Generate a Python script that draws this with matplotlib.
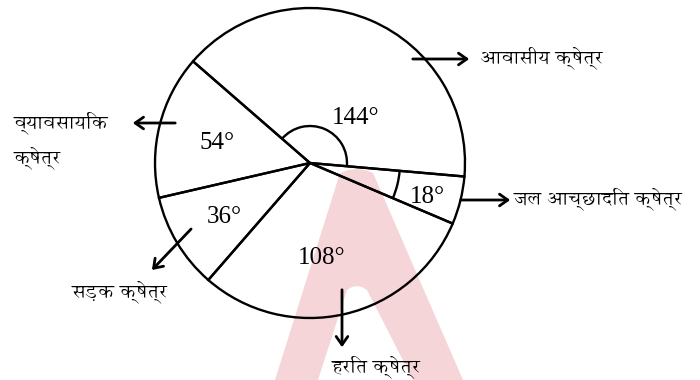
import numpy as np
import matplotlib
matplotlib.use('Agg')
from matplotlib import pyplot as plt
from matplotlib.patches import Arc, Polygon

# data: sector angles (degrees) and their names
sectors = ['आवासीय क्षेत्र', 'व्यावसायिक\nक्षेत्र', 'सड़क क्षेत्र', 'हरित क्षेत्र', 'जल आच्छादित क्षेत्र']
angles = [144, 54, 36, 108, 18]
angle_labels = ['144°', '54°', '36°', '108°', '18°']

hindi = ['Annapurna SIL', 'DejaVu Sans']

fig = plt.figure(figsize=(7, 3.8), dpi=100)
ax = fig.add_axes([0, 0, 1, 1])

cx, cy, r = 310, 217, 155

# watermark in the background
outer = [(275, 0), (340, 207), (348, 210), (356, 211), (365, 210), (373, 207), (463, 0)]
inner = [(318, 0), (347, 90), (352, 93), (357, 94), (362, 93), (367, 90), (413, 0)]
ax.add_patch(Polygon(outer, closed=True, color='#f6d5d8', lw=0, zorder=0))
ax.add_patch(Polygon(inner, closed=True, color='white', lw=0, zorder=0.5))

ax.pie(angles, startangle=-5, counterclock=True, center=(cx, cy), radius=r,
       wedgeprops=dict(facecolor='none', edgecolor='black', linewidth=1.7),
       frame=True)
ax.set_xlim(0, 700)
ax.set_ylim(0, 380)
ax.set_aspect('equal')
ax.axis('off')

# angle markers
start = -5
ax.add_patch(Arc((cx, cy), 74, 74, theta1=start, theta2=start + angles[0], color='black', lw=1.7))
ax.add_patch(Arc((cx, cy), 180, 180, theta1=start - angles[4], theta2=start, color='black', lw=1.7))

# angle labels (polar offsets from centre)
label_pos = [(45, 64), (168, 95), (212, 101), (277, 96), (-16, 122)]
for text, (a, d) in zip(angle_labels, label_pos):
    t = np.deg2rad(a)
    ax.text(cx + d * np.cos(t), cy + d * np.sin(t), text, family='Liberation Serif',
            fontsize=18, ha='center', va='center')

# names with arrows
arrows = [((410, 321), (472, 321)), ((178, 257), (130, 257)), ((193, 153), (150, 108)),
          ((342, 93), (342, 30)), ((458, 180), (513, 180))]
text_pos = [(480, 322), (14, 240), (72, 88), (332, 13), (514, 181)]
for name, (p0, p1), (tx, ty) in zip(sectors, arrows, text_pos):
    ax.annotate('', xy=p1, xytext=p0,
                arrowprops=dict(arrowstyle='->,head_length=0.6,head_width=0.42', lw=2, color='black'))
    ax.text(tx, ty, name, family=hindi, fontsize=14, ha='left', va='center',
            linespacing=1.7)

fig.savefig('out.png', dpi=100)
